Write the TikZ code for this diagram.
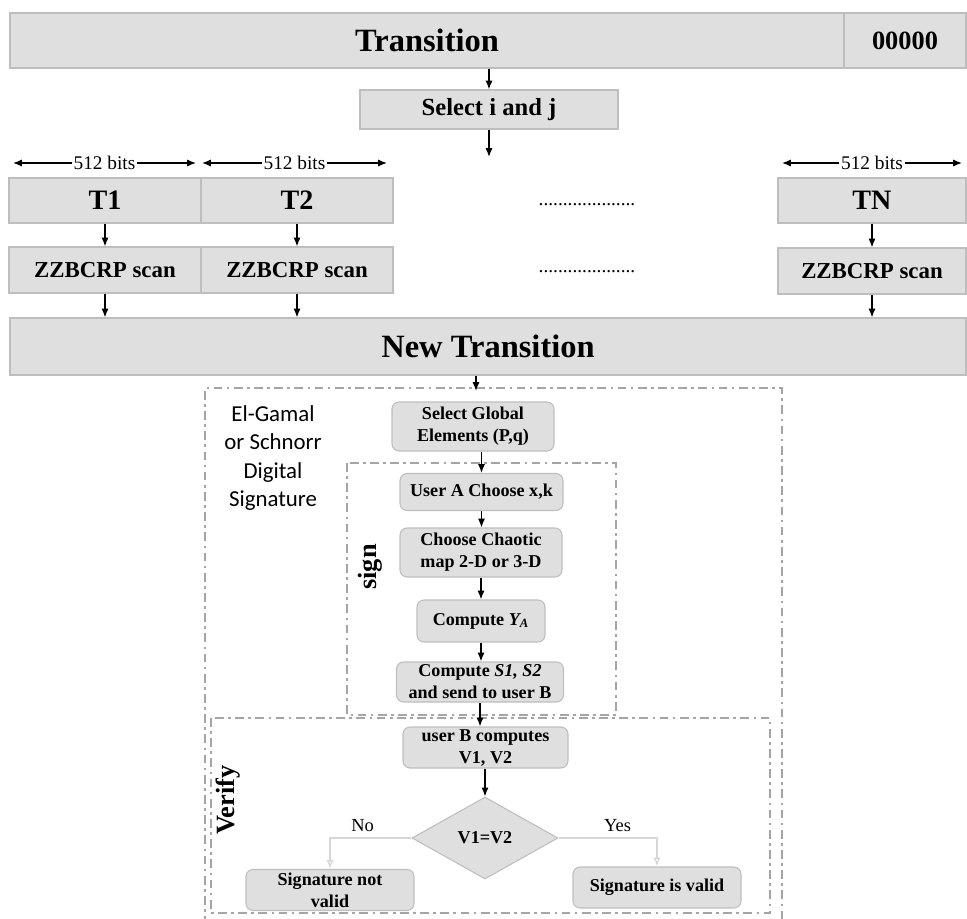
\documentclass[tikz,border=0pt]{standalone}
\usepackage{fontspec}
\setmainfont{Liberation Serif}
\newfontfamily\calibrifont{Carlito}
\usepackage{xcolor}
\usepackage{tikz}
\usetikzlibrary{shapes.geometric, arrows.meta}
\definecolor{boxfill}{RGB}{223, 223, 223}
\definecolor{boxline}{RGB}{190, 190, 190}
\definecolor{frameline}{RGB}{165, 165, 165}
\definecolor{paleline}{RGB}{215, 215, 215}

\begin{document}
\begin{tikzpicture}[x=0.02cm, y=-0.02cm,
	bar/.style={draw=boxline, fill=boxfill, line width=0.6pt, inner sep=0pt, font=\bfseries},
	rbox/.style={bar, rounded corners=4pt, align=center, font=\bfseries\fontsize{10.3}{12.5}\selectfont},
	arr/.style={-{Latex[length=5pt, width=4pt]}, line width=0.75pt},
	pale/.style={-{Latex[open, length=5pt, width=4pt]}, draw=paleline, line width=0.75pt},
	span/.style={{Latex[length=5pt, width=4pt]}-{Latex[length=5pt, width=4pt]}, line width=0.75pt},
	frame/.style={draw=frameline, line width=0.6pt, dash pattern=on 5pt off 2.5pt on 1.5pt off 2.5pt}]
	\def\u{0.02cm}
	\useasboundingbox (0,0) rectangle (967,919);

	% Transition and its tag
	\node[bar, minimum width=834*\u, minimum height=55*\u, font=\bfseries\fontsize{18.5}{20}\selectfont] (trans) at (427,40.5) {Transition};
	\node[bar, minimum width=122*\u, minimum height=55*\u, font=\bfseries\fontsize{15}{17}\selectfont] (zeros) at (905,40.5) {00000};
	\node[bar, minimum width=258*\u, minimum height=39*\u, font=\bfseries\fontsize{14}{16}\selectfont] (sel) at (489,109.5) {Select i and j};
	\coordinate (split) at (489,157);
	\draw[arr] (sel.north |- trans.south) -- (sel.north);
	\draw[arr] (sel.south) -- (split);

	% Block widths
	\coordinate (w1a) at (13,163);  \coordinate (w1b) at (196,163);
	\coordinate (w2a) at (202,163); \coordinate (w2b) at (387,163);
	\coordinate (wna) at (782,163); \coordinate (wnb) at (962,163);
	\foreach \a/\b in {w1a/w1b, w2a/w2b, wna/wnb}
		\draw[span] (\a) -- node[fill=white, inner sep=1pt, font=\fontsize{11}{12}\selectfont] {512 bits} (\b);

	% Row T
	\node[bar, minimum width=192*\u, minimum height=45*\u, font=\bfseries\fontsize{16}{18}\selectfont] (t1) at (105,200.5) {T1};
	\node[bar, minimum width=192*\u, minimum height=45*\u, font=\bfseries\fontsize{16}{18}\selectfont] (t2) at (297,200.5) {T2};
	\node[bar, minimum width=188*\u, minimum height=45*\u, font=\bfseries\fontsize{16}{18}\selectfont] (tn) at (872,200.5) {TN};
	\node[font=\fontsize{11}{12}\selectfont] (dots1) at (587,205) {....................};

	% Row scan
	\node[bar, minimum width=192*\u, minimum height=46*\u, font=\bfseries\fontsize{13}{15}\selectfont] (z1) at (105,270) {ZZBCRP scan};
	\node[bar, minimum width=192*\u, minimum height=46*\u, font=\bfseries\fontsize{13}{15}\selectfont] (z2) at (297,270) {ZZBCRP scan};
	\node[bar, minimum width=188*\u, minimum height=46*\u, font=\bfseries\fontsize{13}{15}\selectfont] (zn) at (872,271) {ZZBCRP scan};
	\node[font=\fontsize{11}{12}\selectfont] (dots2) at (587,272) {....................};

	\node[bar, minimum width=956*\u, minimum height=57*\u, font=\bfseries\fontsize{18.5}{20}\selectfont] (newtr) at (488,346.5) {New Transition};

	\foreach \a/\b in {t1/z1, t2/z2, tn/zn}
		\draw[arr] (\a) -- (\b);
	\foreach \a in {z1, z2, zn}
		\draw[arr] (\a) -- (\a |- newtr.north);

	% Frames
	\draw[frame] (205,925) -- (205,388) -- (782,388) -- (782,925);
	\draw[frame] (347,463) rectangle (616,715);
	\draw[frame] (211,718) rectangle (770,913);

	\node[align=center, font=\calibrifont\fontsize{13}{16}\selectfont] (scheme) at (273,458) {El-Gamal\\or Schnorr\\Digital\\Signature};
	\node[rotate=90, font=\bfseries\fontsize{15}{17}\selectfont] (signlbl) at (370,567) {sign};
	\node[rotate=90, font=\bfseries\fontsize{15}{17}\selectfont] (verlbl) at (228,800) {Verify};

	% Sign steps
	\node[rbox, minimum width=162*\u, minimum height=49*\u] (glob) at (473,426.5) {Select Global\\Elements (P,q)};
	\node[rbox, minimum width=163*\u, minimum height=37*\u] (usera) at (481.5,492) {User A Choose x,k};
	\node[rbox, minimum width=162*\u, minimum height=49*\u] (chaos) at (481,552.5) {Choose Chaotic\\map 2-D or 3-D};
	\node[rbox, minimum width=128*\u, minimum height=42*\u] (ya) at (481,621) {Compute \textit{Y\textsubscript{A}}};
	\node[rbox, minimum width=167*\u, minimum height=40*\u] (s12) at (480,682) {Compute \textit{S1, S2}\\and send to user B};

	% Verify steps
	\node[rbox, minimum width=165*\u, minimum height=41*\u] (userb) at (485.5,747.5) {user B computes\\V1, V2};
	\node[diamond, aspect=1.78, draw=boxline, fill=boxfill, line width=0.6pt, inner sep=0pt, minimum width=146*\u, minimum height=82*\u, font=\bfseries\fontsize{10.3}{12}\selectfont] (dia) at (485,838) {V1=V2};
	\node[rbox, minimum width=168*\u, minimum height=41*\u] (notval) at (330,890) {Signature not\\valid};
	\node[rbox, minimum width=168*\u, minimum height=41*\u] (isval) at (657,887.5) {Signature is valid};

	\draw[arr] (newtr.south -| 476,0) -- (476,391);
	\draw[arr] (glob.south -| usera.north) -- (usera.north);
	\draw[arr] (usera) -- (usera |- chaos.north);
	\draw[arr] (chaos) -- (chaos |- ya.north);
	\draw[arr] (ya) -- (ya |- s12.north);
	\draw[arr] (s12.south) -- (s12.south |- userb.north);
	\draw[arr] (userb.south -| dia.north) -- (dia.north);

	\draw[pale] (dia.west) -| node[pos=0.3, above, text=black, font=\fontsize{10.5}{12}\selectfont] {No} (notval.north);
	\draw[pale] (dia.east) -| node[pos=0.3, above, text=black, font=\fontsize{10.5}{12}\selectfont] {Yes} (isval.north);

\end{tikzpicture}
\end{document}
